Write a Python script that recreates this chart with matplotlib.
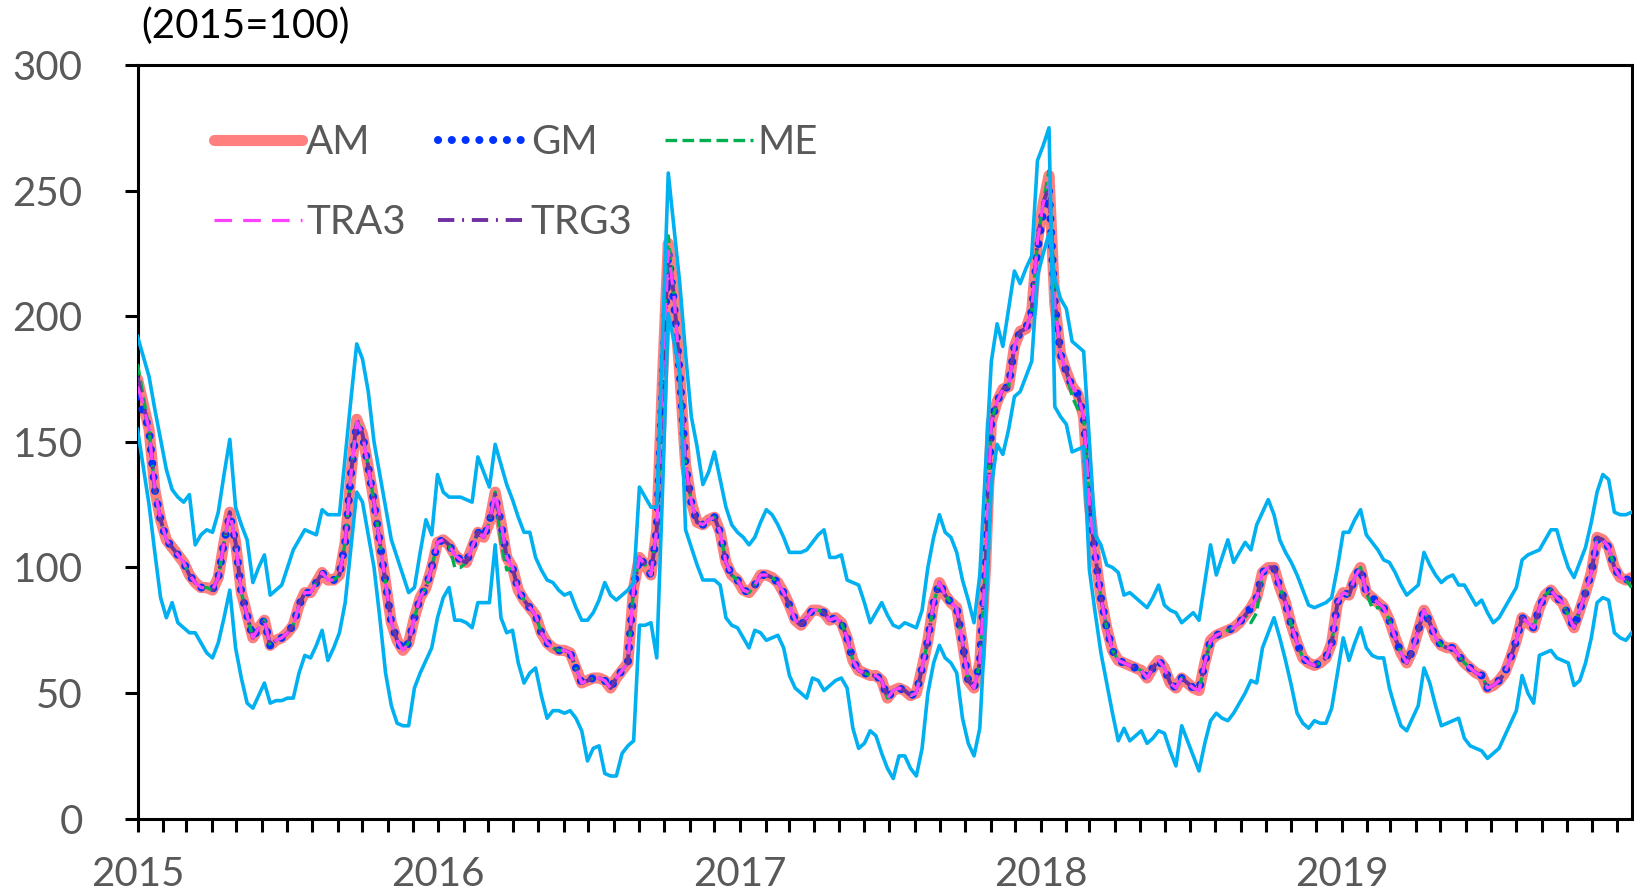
import matplotlib
matplotlib.use("Agg")
import matplotlib.pyplot as plt
import matplotlib.dates as mdates
import pandas as pd

plt.rcParams['font.family'] = ['Lato', 'DejaVu Sans']

# === Weekly index (2015=100) ===
weeks = pd.date_range("2015-01-01", periods=260, freq="7D")

am = [175, 165, 155, 131, 119, 111, 108, 105, 102, 97, 94, 92, 92,
      91, 96, 110, 122, 110, 90, 81, 72, 76, 79, 69, 71, 72,
      74, 77, 85, 90, 90, 94, 98, 95, 95, 97, 110, 137, 159,
      153, 140, 126, 110, 94, 78, 71, 67, 70, 80, 88, 92, 100,
      110, 111, 109, 105, 103, 102, 108, 114, 112, 118, 130, 118, 104,
      100, 91, 87, 84, 81, 74, 70, 68, 67, 67, 66, 60, 54,
      55, 56, 56, 55, 52, 56, 59, 62, 92, 104, 101, 97, 115,
      175, 229, 208, 177, 141, 126, 118, 117, 119, 120, 114, 102, 97,
      95, 91, 90, 93, 97, 97, 96, 94, 90, 85, 79, 77, 80,
      83, 83, 82, 79, 80, 78, 72, 63, 59, 58, 57, 57, 55,
      48, 51, 52, 51, 49, 50, 60, 71, 86, 94, 89, 86, 84,
      70, 55, 52, 62, 100, 158, 166, 171, 172, 188, 194, 195, 202,
      230, 245, 256, 205, 185, 178, 172, 169, 160, 125, 105, 88, 76,
      67, 63, 62, 61, 60, 59, 56, 60, 63, 60, 54, 52, 56,
      54, 52, 51, 62, 71, 73, 74, 75, 76, 78, 81, 84, 88,
      98, 100, 100, 92, 86, 77, 70, 64, 62, 61, 62, 64, 70,
      86, 90, 89, 96, 100, 90, 88, 86, 84, 79, 72, 66, 62,
      67, 75, 83, 78, 72, 69, 68, 68, 65, 62, 60, 58, 57,
      52, 53, 55, 58, 64, 71, 80, 78, 76, 84, 89, 91, 88,
      86, 81, 76, 83, 90, 98, 112, 111, 108, 100, 96, 95, 96]

gm = [168, 162, 155, 131, 119, 111, 108, 105, 102, 97, 94, 92, 92,
      91, 96, 110, 121, 110, 90, 81, 72, 76, 79, 69, 71, 72,
      74, 77, 85, 90, 90, 94, 98, 95, 95, 97, 110, 137, 157,
      153, 140, 126, 110, 94, 78, 71, 67, 70, 80, 88, 92, 100,
      110, 111, 109, 105, 103, 102, 108, 114, 112, 118, 128, 118, 104,
      100, 91, 87, 84, 81, 74, 70, 68, 67, 67, 66, 60, 54,
      55, 56, 56, 55, 52, 56, 59, 62, 92, 104, 101, 97, 115,
      172, 226, 205, 177, 141, 126, 118, 117, 119, 120, 114, 102, 97,
      95, 91, 90, 93, 97, 97, 96, 94, 90, 85, 79, 77, 80,
      83, 83, 82, 79, 80, 78, 72, 63, 59, 58, 57, 57, 55,
      48, 51, 52, 51, 49, 50, 60, 71, 86, 94, 89, 86, 84,
      70, 55, 52, 62, 100, 158, 166, 171, 172, 188, 194, 195, 202,
      226, 242, 250, 205, 185, 178, 172, 169, 160, 125, 105, 88, 76,
      67, 63, 62, 61, 60, 59, 56, 60, 63, 60, 54, 52, 56,
      54, 52, 51, 62, 71, 73, 74, 75, 76, 78, 81, 84, 88,
      98, 100, 100, 92, 86, 77, 70, 64, 62, 61, 62, 64, 70,
      86, 90, 89, 96, 100, 90, 88, 86, 84, 79, 72, 66, 62,
      67, 75, 83, 78, 72, 69, 68, 68, 65, 62, 60, 58, 57,
      52, 53, 55, 58, 64, 71, 80, 78, 76, 84, 89, 91, 88,
      86, 81, 76, 83, 90, 98, 111, 111, 108, 100, 96, 95, 96]

me = [181, 168, 155, 131, 119, 111, 108, 105, 102, 97, 94, 92, 92,
      91, 96, 110, 122, 110, 90, 81, 72, 76, 79, 69, 71, 72,
      74, 77, 85, 90, 90, 94, 98, 95, 95, 97, 110, 137, 159,
      153, 140, 126, 110, 94, 78, 71, 67, 70, 80, 88, 92, 100,
      110, 111, 109, 100, 100, 102, 108, 114, 112, 118, 130, 110, 99,
      100, 91, 87, 84, 81, 74, 70, 68, 67, 67, 66, 60, 54,
      55, 56, 56, 55, 52, 56, 59, 62, 92, 104, 101, 97, 115,
      175, 232, 208, 177, 141, 126, 118, 117, 119, 120, 114, 102, 97,
      95, 91, 90, 93, 97, 97, 96, 94, 90, 85, 79, 77, 80,
      83, 83, 82, 79, 80, 78, 72, 63, 59, 58, 57, 57, 55,
      48, 51, 52, 51, 49, 50, 60, 71, 86, 94, 89, 86, 84,
      70, 55, 52, 62, 100, 158, 166, 171, 172, 188, 194, 195, 202,
      230, 245, 258, 205, 185, 178, 168, 163, 160, 125, 105, 88, 76,
      67, 63, 62, 61, 60, 59, 56, 60, 63, 60, 54, 52, 56,
      54, 52, 51, 62, 71, 73, 74, 75, 76, 78, 81, 78, 82,
      98, 100, 100, 92, 86, 77, 70, 64, 62, 61, 62, 64, 70,
      86, 90, 89, 96, 100, 90, 84, 84, 84, 79, 72, 66, 62,
      67, 75, 83, 78, 72, 69, 68, 68, 65, 62, 60, 58, 57,
      52, 53, 55, 58, 64, 71, 80, 78, 76, 84, 89, 91, 88,
      86, 81, 76, 83, 90, 98, 112, 111, 108, 100, 96, 95, 92]

tra3 = [172, 165, 155, 131, 119, 111, 108, 105, 102, 97, 94, 92, 92,
        91, 96, 110, 122, 110, 90, 81, 72, 76, 79, 69, 71, 72,
        74, 77, 85, 90, 90, 94, 98, 95, 95, 97, 110, 137, 158,
        153, 140, 126, 110, 94, 78, 71, 67, 70, 80, 88, 92, 100,
        110, 111, 109, 105, 103, 102, 108, 114, 112, 118, 130, 118, 104,
        100, 91, 87, 84, 81, 74, 70, 68, 67, 67, 66, 60, 54,
        55, 56, 56, 55, 52, 56, 59, 62, 92, 104, 101, 97, 115,
        175, 226, 208, 177, 141, 126, 118, 117, 119, 120, 114, 102, 97,
        95, 91, 90, 93, 97, 97, 96, 94, 90, 85, 79, 77, 80,
        83, 83, 82, 79, 80, 78, 72, 63, 59, 58, 57, 57, 55,
        48, 51, 52, 51, 49, 50, 60, 71, 86, 94, 89, 86, 84,
        70, 55, 52, 62, 100, 158, 166, 171, 172, 188, 194, 195, 202,
        230, 245, 253, 205, 185, 178, 172, 169, 160, 125, 105, 88, 76,
        67, 63, 62, 61, 60, 59, 56, 60, 63, 60, 54, 52, 56,
        54, 52, 51, 62, 71, 73, 74, 75, 76, 78, 81, 84, 88,
        98, 100, 100, 92, 86, 77, 70, 64, 62, 61, 62, 64, 70,
        86, 90, 89, 96, 100, 90, 88, 86, 84, 79, 72, 66, 62,
        67, 75, 83, 78, 72, 69, 68, 68, 65, 62, 60, 58, 57,
        52, 53, 55, 58, 64, 71, 80, 78, 76, 84, 89, 91, 88,
        86, 81, 76, 83, 90, 98, 112, 111, 108, 100, 96, 95, 96]

trg3 = [176, 165, 155, 131, 119, 111, 108, 105, 102, 97, 94, 92, 92,
        91, 96, 110, 122, 110, 90, 81, 72, 76, 79, 69, 71, 72,
        74, 77, 85, 90, 90, 94, 98, 95, 95, 97, 110, 137, 159,
        153, 140, 126, 110, 94, 78, 71, 67, 70, 80, 88, 92, 100,
        110, 111, 109, 105, 103, 102, 108, 114, 112, 118, 129, 118, 104,
        100, 91, 87, 84, 81, 74, 70, 68, 67, 67, 66, 60, 54,
        55, 56, 56, 55, 52, 56, 59, 62, 92, 104, 101, 97, 115,
        175, 225, 208, 177, 141, 126, 118, 117, 119, 120, 114, 102, 97,
        95, 91, 90, 93, 97, 97, 96, 94, 90, 85, 79, 77, 80,
        83, 83, 82, 79, 80, 78, 72, 63, 59, 58, 57, 57, 55,
        48, 51, 52, 51, 49, 50, 60, 71, 86, 94, 89, 86, 84,
        70, 55, 52, 62, 100, 158, 166, 171, 172, 188, 194, 195, 202,
        230, 245, 252, 205, 185, 178, 172, 169, 160, 125, 105, 88, 76,
        67, 63, 62, 61, 60, 59, 56, 60, 63, 60, 54, 52, 56,
        54, 52, 51, 62, 71, 73, 74, 75, 76, 78, 81, 84, 88,
        98, 100, 100, 92, 86, 77, 70, 64, 62, 61, 62, 64, 70,
        86, 90, 89, 96, 100, 90, 88, 86, 84, 79, 72, 66, 62,
        67, 75, 83, 78, 72, 69, 68, 68, 65, 62, 60, 58, 57,
        52, 53, 55, 58, 64, 71, 80, 78, 76, 84, 89, 91, 88,
        86, 81, 76, 83, 90, 98, 112, 111, 108, 100, 96, 95, 96]

# light blue envelope lines (they cross at the 2018 peak)
band_a = [192, 184, 176, 163, 151, 139, 131, 128, 126, 129, 109, 113, 115,
          114, 122, 137, 151, 124, 117, 111, 94, 100, 105, 89, 91, 93,
          100, 107, 111, 115, 114, 113, 123, 121, 121, 121, 144, 167, 189,
          183, 170, 150, 137, 124, 111, 104, 97, 90, 92, 106, 119, 113,
          137, 130, 128, 128, 128, 127, 126, 144, 138, 132, 149, 141, 133,
          127, 120, 114, 114, 104, 99, 95, 94, 91, 89, 90, 84, 79,
          79, 82, 87, 94, 89, 87, 89, 91, 94, 132, 128, 124, 124,
          190, 257, 235, 213, 185, 160, 148, 133, 138, 146, 135, 124, 117,
          114, 112, 109, 112, 118, 123, 121, 117, 112, 106, 106, 106, 107,
          110, 113, 115, 104, 104, 105, 95, 94, 93, 86, 78, 82, 86,
          81, 77, 76, 78, 77, 76, 83, 100, 112, 121, 114, 112, 106,
          95, 87, 78, 97, 140, 182, 197, 188, 203, 218, 213, 219, 224,
          262, 268, 275, 164, 160, 157, 146, 147, 148, 99, 82, 66, 54,
          42, 31, 36, 31, 33, 35, 30, 32, 35, 34, 27, 21, 37,
          31, 25, 19, 30, 39, 42, 40, 39, 42, 46, 50, 55, 54,
          68, 74, 80, 72, 63, 53, 42, 38, 36, 39, 38, 38, 44,
          58, 72, 63, 70, 76, 68, 65, 64, 64, 52, 44, 37, 35,
          40, 45, 60, 54, 45, 37, 38, 39, 40, 32, 29, 28, 27,
          24, 26, 28, 33, 38, 43, 57, 50, 46, 65, 66, 67, 64,
          63, 62, 53, 55, 62, 72, 86, 88, 87, 74, 72, 71, 74]

band_b = [155, 140, 125, 106, 88, 80, 86, 78, 76, 74, 74, 70, 66,
          64, 70, 80, 91, 68, 56, 46, 44, 49, 54, 46, 47, 47,
          48, 48, 58, 65, 64, 69, 75, 63, 68, 74, 86, 108, 130,
          126, 113, 100, 80, 58, 45, 38, 37, 37, 52, 58, 63, 68,
          80, 88, 92, 79, 79, 78, 76, 86, 86, 86, 109, 80, 74,
          75, 62, 54, 58, 60, 49, 40, 43, 43, 42, 43, 40, 35,
          23, 28, 29, 18, 17, 17, 26, 29, 31, 77, 77, 78, 64,
          130, 201, 190, 177, 115, 108, 101, 95, 95, 95, 93, 80, 77,
          76, 72, 68, 75, 74, 71, 72, 73, 68, 57, 52, 50, 48,
          56, 55, 51, 53, 55, 56, 52, 36, 28, 30, 35, 33, 26,
          20, 16, 25, 25, 20, 17, 28, 50, 62, 69, 64, 62, 58,
          40, 30, 25, 36, 80, 132, 149, 145, 155, 168, 170, 176, 182,
          216, 225, 233, 215, 207, 203, 190, 188, 186, 150, 113, 109, 101,
          100, 98, 89, 90, 88, 86, 84, 88, 93, 85, 83, 82, 78,
          80, 82, 79, 94, 109, 97, 104, 111, 102, 106, 110, 107, 117,
          122, 127, 121, 111, 106, 102, 97, 91, 85, 84, 85, 86, 88,
          100, 114, 114, 119, 123, 113, 110, 107, 103, 102, 98, 93, 89,
          91, 93, 106, 101, 97, 94, 96, 97, 93, 93, 89, 85, 87,
          82, 78, 80, 84, 88, 92, 103, 105, 106, 107, 111, 115, 115,
          107, 100, 96, 102, 108, 118, 130, 137, 135, 122, 121, 121, 122]

# === Chart ===
fig = plt.figure(figsize=(16.34, 8.96), dpi=100)
ax = fig.add_axes([137.5 / 1634, 1 - 818.7 / 896,
                   (1631.7 - 137.5) / 1634, (818.7 - 65) / 896])

l_am, = ax.plot(weeks, am, color='#FF7F7F', lw=8, solid_capstyle='round',
                solid_joinstyle='round', label='AM', zorder=2)
l_gm, = ax.plot(weeks, gm, color='#0033FF', lw=5.8, linestyle=(0, (0.01, 1.7)),
                dash_capstyle='round', label='GM', zorder=3)
l_me, = ax.plot(weeks, me, color='#00B050', lw=2.4, linestyle=(0, (3.5, 1.6)),
                label='ME', zorder=4)
l_trg3, = ax.plot(weeks, trg3, color='#7030A0', lw=2.8,
                  linestyle=(0, (4.2, 2, 0.5, 2)), label='TRG3', zorder=5)
l_tra3, = ax.plot(weeks, tra3, color='#FF40FF', lw=2.3, linestyle=(0, (5.5, 3.5)),
                  label='TRA3', zorder=6)
ax.plot(weeks, band_a, color='#00B0F0', lw=2.6, zorder=7)
ax.plot(weeks, band_b, color='#00B0F0', lw=2.6, zorder=7)

ax.set_ylim(0, 300)
ax.set_yticks(range(0, 301, 50))
ax.set_xlim(weeks[0], weeks[-1])
ax.xaxis.set_major_locator(mdates.YearLocator())
ax.xaxis.set_major_formatter(mdates.DateFormatter('%Y'))
ax.xaxis.set_minor_locator(mdates.MonthLocator())

ax.tick_params(axis='both', which='both', direction='out', length=9.5,
               width=2.2, color='black', labelcolor='#595959', labelsize=29)
ax.tick_params(axis='y', pad=30)
ax.tick_params(axis='x', which='major', pad=17)
for sp in ax.spines.values():
    sp.set_linewidth(2.2)
    sp.set_color('black')

leg = ax.legend(handles=[l_am, l_tra3, l_gm, l_trg3, l_me], ncol=3,
                loc='upper left', bbox_to_anchor=(0.051, 0.922),
                frameon=False, fontsize=29, handlelength=2.2,
                handletextpad=0.1, columnspacing=0.8, labelspacing=1.08,
                borderpad=0, borderaxespad=0)
for t in leg.get_texts():
    t.set_color('#595959')

fig.text(141 / 1634, 1 - 26 / 896, '(2015=100)', fontsize=29,
         va='center', ha='left', color='black')

fig.savefig('out.png', dpi=100)
